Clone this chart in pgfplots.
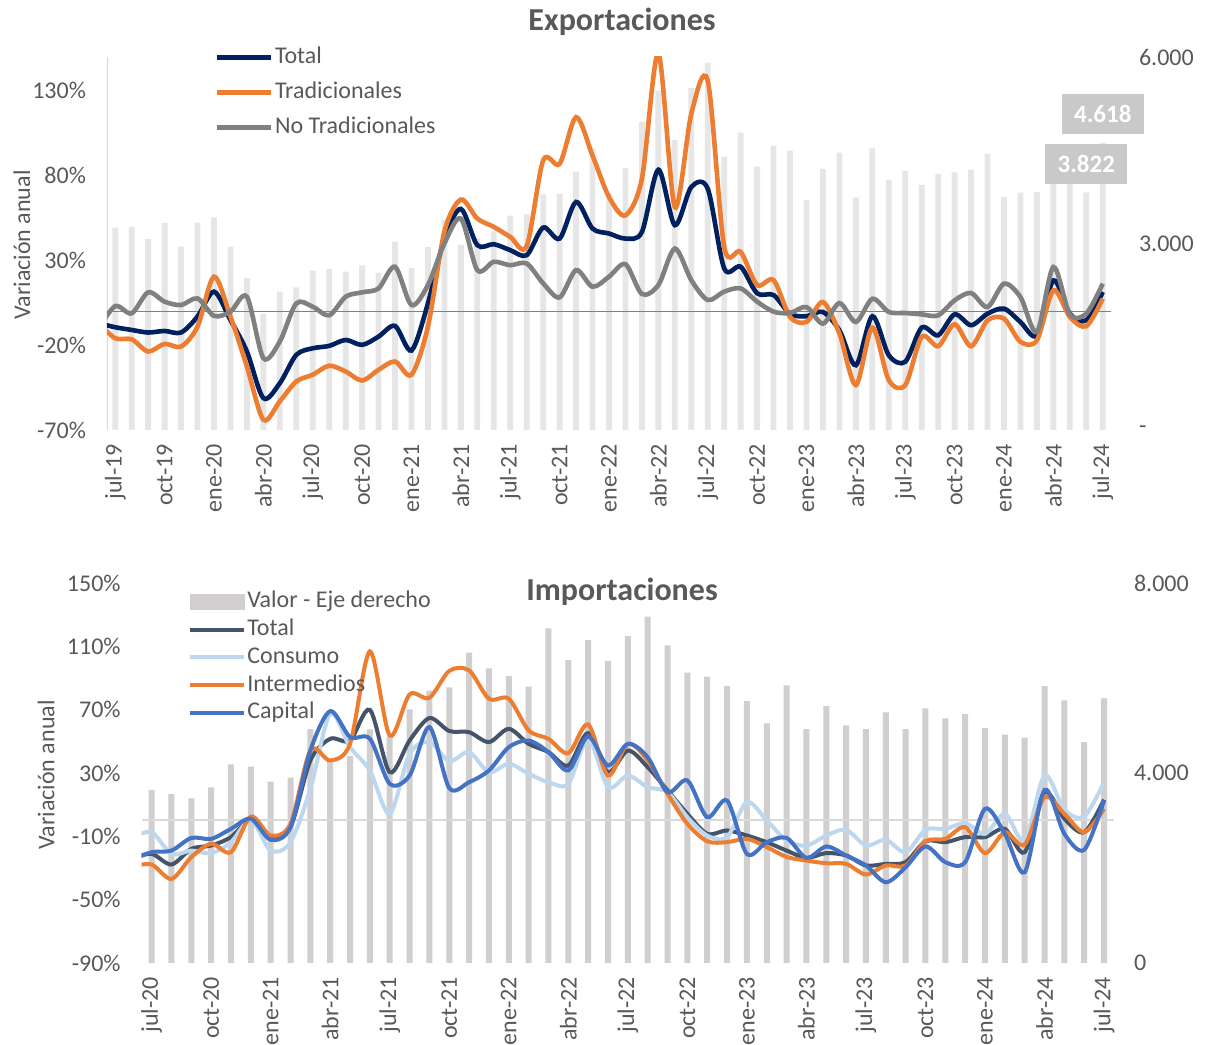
\documentclass[border=0pt]{standalone}
\usepackage{pgfplots}
\pgfplotsset{compat=1.18}
\usepackage{pgfplotstable}
\usepackage{fontspec}
\setmainfont{Carlito}
\definecolor{txtc}{HTML}{595959}
\definecolor{navyc}{HTML}{002060}
\definecolor{orngc}{HTML}{ED7D31}
\definecolor{gryc}{HTML}{808080}
\definecolor{barAc}{HTML}{E7E6E6}
\definecolor{barBc}{HTML}{D0CECE}
\definecolor{slatec}{HTML}{44546A}
\definecolor{lbluec}{HTML}{BDD7EE}
\definecolor{capc}{HTML}{4472C4}
\definecolor{labc}{HTML}{C9C9C9}
\definecolor{axgrayc}{HTML}{D9D9D9}

\pgfplotstableread{
i total trad notrad
-1 -7 -7 -10
0 -9.4 -15.9 3.1
1 -11.0 -16.5 -1.2
2 -12.5 -23.7 11.2
3 -11.6 -19.2 5.7
4 -12.5 -20.8 3.7
5 -3.1 -9.0 7.6
6 11.6 20.4 -2.7
7 -5.1 -3.1 -0.2
8 -23.7 -32.5 8.6
9 -51.2 -63.9 -27.6
10 -42.4 -53.1 -17.8
11 -25.7 -41.4 4.7
12 -21.8 -37.4 2.7
13 -20.4 -32.1 -2.4
14 -16.9 -35.5 8.6
15 -19.8 -40.8 11.2
16 -14.9 -34.5 13.5
17 -8.6 -29.6 26.3
18 -23.1 -37.4 3.7
19 4.7 -9.0 15.5
20 43 47 40
21 60.4 65.9 54.7
22 39.0 54.7 24.3
23 39.6 49.8 29.2
24 36.1 43.9 27.2
25 33.1 38.4 28.2
26 49.4 89.0 16.5
27 42.9 87.0 8.2
28 64.5 114.5 24.3
29 48.8 91.9 14.5
30 45.9 67.4 20.4
31 42.9 56.6 27.8
32 46.8 78.2 10.2
33 83.5 152 15.5
34 50.8 61.5 37.0
35 73.3 116.4 18.4
36 72.3 136.0 6.7
37 25.3 38.0 11.6
38 26.3 35.1 13.5
39 10.6 15.5 5.7
40 9.6 18.4 -0.2
41 -1.5 -3.3 -1.0
42 -2.9 -6.3 2.5
43 -0.4 5.5 -7.3
44 -11.2 -13.1 4.9
45 -31.8 -43.5 -6.3
46 -2.9 -9.6 7.4
47 -25.9 -40.6 -0.4
48 -29.8 -43.5 -1.0
49 -9.6 -15.1 -1.8
50 -14.1 -20.6 -2.4
51 -1.8 -7.6 6.5
52 -8.2 -20.6 10.8
53 -1.4 -5.3 2.5
54 1.6 -4.3 16.3
55 -6.3 -18.0 8.4
56 -14.1 -17.1 -12.2
57 18.2 12.3 26.1
58 -1.4 -3.3 -1.8
59 -5.3 -8.8 -1.4
60 11.4 7.4 16.3
}\explines

\pgfplotstableread{
i bar
0 3255
1 3266
2 3073
3 3331
4 2950
5 3331
6 3422
7 2950
8 2441
9 1866
10 2226
11 2296
12 2564
13 2591
14 2548
15 2650
16 2526
17 3030
18 2607
19 2945
20 3379
21 2977
22 3090
23 3190
24 3449
25 3470
26 3792
27 3797
28 4157
29 4543
30 3810
31 4211
32 4961
33 5460
34 4666
35 5498
36 5910
37 4398
38 4784
39 4237
40 4570
41 4494
42 3701
43 4200
44 4462
45 3738
46 4532
47 4023
48 4167
49 3942
50 4119
51 4146
52 4188
53 4441
54 3744
55 3820
56 3829
57 4250
58 4400
59 3822
60 4618
}\expbars

\pgfplotstableread{
i total cons inter cap
-1 -24 -11 -29 -25
0 -21.1 -7.4 -27.8 -20.0
1 -27.8 -21.1 -36.9 -19.0
2 -17.9 -19.0 -23.2 -11.0
3 -15.8 -20.6 -14.7 -11.6
4 -10.5 -13.7 -20.0 -5.3
5 0.4 0.4 2.5 1.1
6 -11.6 -19.0 -9.5 -12.2
7 -4.2 -13.7 -2.1 -4.2
8 37.9 20.0 44.2 44.2
9 51.6 67.4 37.9 69.1
10 50.5 46.3 48.4 52.7
11 69.9 31.6 106.8 51.6
12 30.5 4.2 53.7 23.2
13 50.5 42.1 79.6 28.4
14 64.7 49.5 77.5 59.0
15 56.5 37.5 94.5 20.5
16 55.8 43.2 94.8 24.2
17 49.5 30.5 76.9 31.6
18 57.9 35.8 76.9 46.3
19 48.4 29.5 56.9 50.5
20 43.2 24.2 51.6 43.2
21 34.7 23.2 42.5 31.6
22 55.2 51.6 60.7 53.1
23 30.5 21.1 28.4 34.7
24 44.2 28.4 48.4 48.4
25 33.7 21.1 37.9 40.0
26 19.0 17.9 16.8 17.9
27 4.2 2.1 -2.1 25.3
28 -8.4 -9.5 -13.1 2.1
29 -6.3 -10.5 -13.7 12.6
30 -9.5 11.6 -11.6 -21.1
31 -13.7 0 -16.8 -13.7
32 -19.0 -12.6 -23.0 -11.0
33 -23.6 -15.8 -25.3 -23.6
34 -20.6 -9.5 -27.0 -16.4
35 -22.1 -5.9 -27.4 -22.1
36 -28.4 -15.8 -34.1 -28.4
37 -27.4 -12.2 -28.4 -39.0
38 -26.3 -20.0 -28.4 -29.5
39 -13.1 -5.9 -13.1 -16.4
40 -13.7 -5.3 -11.6 -26.3
41 -10.5 -1.7 -4.2 -26.3
42 -10.5 -8.4 -20.6 7.4
43 -5.3 4.2 -7.4 -8.4
44 -20.0 -12.6 -15.2 -32.6
45 17.9 28.4 14.7 19.4
46 1.1 6.7 4.2 -8.4
47 -7.4 2.5 -7.4 -18.5
48 13.1 24.2 7.4 12.6
}\implines

\pgfplotstableread{
i bar
0 3642
1 3557
2 3466
3 3698
4 4182
5 4133
6 3817
7 3901
8 4926
9 4240
10 4357
11 4919
12 4764
13 5340
14 5732
15 5803
16 6532
17 6203
18 6041
19 5817
20 7045
21 6378
22 6799
23 6357
24 6883
25 7290
26 6688
27 6111
28 6027
29 5831
30 5515
31 5045
32 5845
33 4926
34 5410
35 5003
36 4926
37 5277
38 4926
39 5361
40 5150
41 5241
42 4947
43 4806
44 4743
45 5831
46 5530
47 4652
48 5572
}\impbars

\pgfplotsset{
  base/.style={scale only axis, tick style={draw=none}, axis line style={draw=none},
    tick label style={font=\fontsize{12}{14}\selectfont, text=txtc},
    label style={font=\fontsize{12}{14}\selectfont, text=txtc},
    xmin=-0.5},
  xlab/.style={xticklabel style={rotate=90, anchor=east, yshift=0pt, xshift=-3.5pt}},
}

\begin{document}
\begin{tikzpicture}
\path[use as bounding box, fill=white] (0,0) rectangle (603pt,522.5pt);

% ---------- Exportaciones: bars (right axis)
\begin{axis}[base, at={(53.5pt,307.5pt)}, anchor=south west, width=502pt, height=186.5pt,
  xmax=60.5, ymin=0, ymax=6000, clip=false, xtick=\empty,
  ytick pos=right, yticklabel pos=right,
  ytick={0,3000,6000}, yticklabels={-,3.000,6.000},
  yticklabel style={anchor=west, xshift=10.5pt}]
\addplot[ybar, bar width=2.9pt, fill=barAc, draw=none] table[x=i,y=bar]{\expbars};
\addplot[draw=none, mark=none, nodes near coords, point meta=explicit symbolic,
  every node near coord/.append style={fill=labc, text=white,
    font=\bfseries\fontsize{12.5}{14}\selectfont, minimum width=41pt,
    minimum height=20pt, inner sep=0pt, anchor=south, yshift=4.2pt}]
  coordinates {(59,3822)[3.822] (60,4618)[4.618]};
\end{axis}

% ---------- Exportaciones: lines (left axis)
\begin{axis}[base, xlab, at={(53.5pt,307.5pt)}, anchor=south west, width=502pt, height=186.5pt,
  xmax=60.5, ymin=-70, ymax=150,
  ytick pos=left, xtick pos=bottom,
  ytick={-70,-20,30,80,130}, yticklabels={-70\%,-20\%,30\%,80\%,130\%},
  yticklabel style={anchor=east, xshift=-7pt},
  xtick={0,3,...,60},
  xticklabels={jul-19,oct-19,ene-20,abr-20,jul-20,oct-20,ene-21,abr-21,jul-21,oct-21,ene-22,abr-22,jul-22,oct-22,ene-23,abr-23,jul-23,oct-23,ene-24,abr-24,jul-24},
  ylabel={Variación anual},
  ylabel style={at={(axis description cs:-0.0847,0.496)}, anchor=center},
  title={Exportaciones},
  title style={at={(axis description cs:0.513,1.094)}, anchor=center, yshift=-6pt,
    font=\bfseries\fontsize{16}{19}\selectfont, text=txtc},
  legend style={at={(axis description cs:0.1066,1.038)}, anchor=north west, draw=none, fill=none,
    font=\fontsize{12}{14}\selectfont, text=txtc, row sep=3.5pt, inner sep=0pt,
    nodes={text height=9pt, text depth=3pt, inner sep=1pt}},
  legend cell align=left,
  legend image code/.code={\draw[#1] (0pt,0pt) -- (27pt,0pt);}]
\draw[axgrayc, line width=0.6pt] (rel axis cs:0,0) -- (rel axis cs:0,1);
\addplot[gryc, line width=0.6pt, forget plot] coordinates {(-0.5,0) (60.5,0)};
\addplot[navyc, line width=2.3pt, smooth] table[x=i,y=total]{\explines};
\addlegendentry{Total}
\addplot[orngc, line width=2.3pt, smooth] table[x=i,y=trad]{\explines};
\addlegendentry{Tradicionales}
\addplot[gryc, line width=2.3pt, smooth] table[x=i,y=notrad]{\explines};
\addlegendentry{No Tradicionales}
\end{axis}

% ---------- Importaciones: bars (right axis)
\begin{axis}[base, at={(70.85pt,41pt)}, anchor=south west, width=486.15pt, height=190pt,
  xmax=48.5, ymin=0, ymax=8000, xtick=\empty,
  ytick pos=right, yticklabel pos=right,
  ytick={0,4000,8000}, yticklabels={0,4.000,8.000},
  yticklabel style={anchor=west, xshift=6.5pt}]
\addplot[ybar, bar width=3pt, fill=barBc, draw=none] table[x=i,y=bar]{\impbars};
\end{axis}

% ---------- Importaciones: lines (left axis)
\begin{axis}[base, xlab, at={(70.85pt,41pt)}, anchor=south west, width=486.15pt, height=190pt,
  xmax=48.5, ymin=-90, ymax=150,
  ytick pos=left, xtick pos=bottom,
  ytick={-90,-50,-10,30,70,110,150}, yticklabels={-90\%,-50\%,-10\%,30\%,70\%,110\%,150\%},
  yticklabel style={anchor=east, xshift=-7pt},
  xtick={0,3,...,48},
  xticklabels={jul-20,oct-20,ene-21,abr-21,jul-21,oct-21,ene-22,abr-22,jul-22,oct-22,ene-23,abr-23,jul-23,oct-23,ene-24,abr-24,jul-24},
  ylabel={Variación anual},
  ylabel style={at={(axis description cs:-0.0984,0.495)}, anchor=center},
  title={Importaciones},
  title style={at={(axis description cs:0.494,0.982)}, anchor=center, yshift=-7pt,
    font=\bfseries\fontsize{16}{19}\selectfont, text=txtc},
  legend style={at={(axis description cs:0.0476,0.986)}, anchor=north west, draw=none, fill=none,
    font=\fontsize{12}{14}\selectfont, text=txtc, row sep=0.9pt, inner sep=0pt,
    nodes={text height=9pt, text depth=3pt, inner sep=0.5pt}},
  legend cell align=left,
  legend image code/.code={\draw[#1] (0pt,0pt) -- (27pt,0pt);}]
\addlegendimage{legend image code/.code={\fill[barBc] (0pt,-3.75pt) rectangle (27pt,3.75pt);}}
\addlegendentry{Valor - Eje derecho}
\addplot[axgrayc, line width=1pt, forget plot] coordinates {(-0.5,0) (48.5,0)};
\addplot[slatec, line width=2pt, smooth] table[x=i,y=total]{\implines};
\addlegendentry{Total}
\addplot[lbluec, line width=2pt, smooth] table[x=i,y=cons]{\implines};
\addlegendentry{Consumo}
\addplot[orngc, line width=2pt, smooth] table[x=i,y=inter]{\implines};
\addlegendentry{Intermedios}
\addplot[capc, line width=2pt, smooth] table[x=i,y=cap]{\implines};
\addlegendentry{Capital}
\end{axis}
\end{tikzpicture}
\end{document}
